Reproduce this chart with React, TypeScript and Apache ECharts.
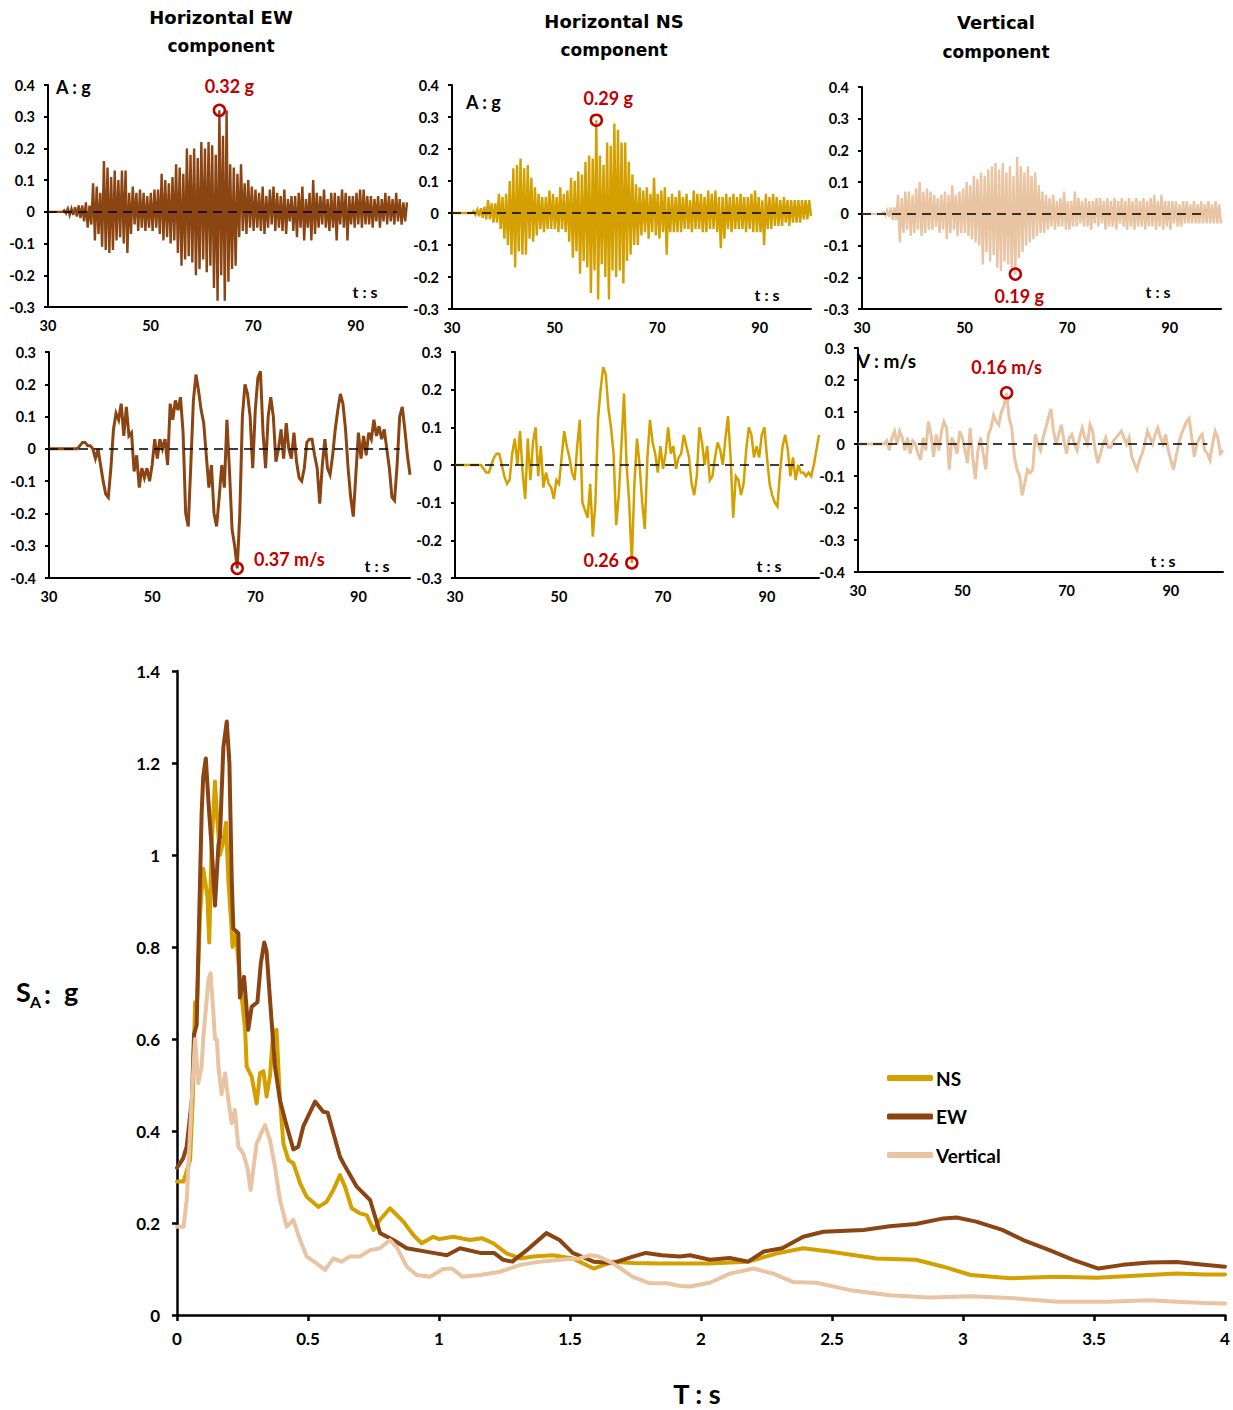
import React, { useEffect, useRef } from "react";
import * as echarts from "echarts";

// ---------- DATA ----------
const T_START = 30;
const T_END = 100;

// Acceleration records, hundredths of g, evenly sampled from 30 s to 100 s
const ewAccCg = [
  0, 0, 0, 0, 0, 0, 0, 0, 0,
  0.5, -0.5, 1, -1, 1, -1, 1.5, -1.5, 2,
  -2, 2, -3, 3, -5, 2, -4,
  9, -9, 8, -7,
  6, -11, 16, -12, 14, -13,
  11, -12, 13, -9, 10, -8, 13, -10, 13, -13, 6,
  -7, 8, -4, 6, -6, 7, -5, 6, -6, 5, -5, 6, -6, 7, -5, 7, -7,
  12, -9, 10, -8, 9, -10, 11, -9, 15,
  -13, 14, -17, 12, -15, 20, -14, 18, -16,
  20, -20, 17, -18, 22, -15, 20, -19,
  22, -17, 21, -24, 18,
  -28, 32, -20, 24, -28, 32, -22,
  15, -18, 14, -17, 12, -8,
  15, -6, 9, -7, 10, -5, 8, -6,
  7, -5, 6, -6, 8, -7, 5, -5, 7, -4,
  8, -6, 6, -5, 5, -6, 7, -7, 4, -3,
  5, -6, 5, -8, 6, -5, 8, -9, 4, -5,
  6, -9, 10, -7, 6, -5, 5, -4, 7, -5,
  4, -6, 6, -5, 6, -9, 5, -4, 7, -5,
  6, -9, 5, -4, 5, -5, 6, -4, 7, -5,
  7, -4, 5, -4, 5, -5, 4, -3, 5, -5,
  4, -3, 6, -4, 5, -3, 4, -4, 6, -3,
  4, -4, 3, -3, 3,
];

const nsAccCg = [
  0, 0, 0, 0, 0, 0, 0, 0, 0, 0, 0, 0,
  0.5, -0.5, 1, -1, 1.5, -1.5, 2, -2,
  4, -2, 3, -3, 3, -3,
  6, -5, 5, -8, 6, -10,
  10, -13, 14, -17, 15,
  -12, 17, -13, 14, -13, 15, -8,
  11, -9, 8, -7, 6, -5,
  5, -6, 5, -5, 7, -5, 6, -5, 5, -6, 8, -5, 6, -6, 7, -9,
  11, -14, 10, -12, 13, -19,
  12, -15, 16, -17, 18, -25,
  17, -18, 29, -27, 18, -16,
  15, -20, 22, -27, 21, -18,
  28, -20, 26, -18, 22, -22,
  22, -15, 16, -13, 12, -10,
  9, -10, 8, -7, 7, -6, 8, -8,
  6, -6, 11, -7, 6, -8, 7, -6, 8, -13,
  5, -6, 6, -6, 5, -6, 7, -6, 5, -5,
  6, -5, 4, -6, 7, -5, 6, -5, 6, -6,
  5, -6, 7, -5, 6, -5, 7, -6, 5, -11,
  5, -8, 6, -5, 5, -6, 6, -5, 5, -5,
  6, -5, 5, -6, 5, -5, 6, -6, 7, -6,
  5, -6, 4, -10, 6, -5, 5, -5, 6, -4,
  5, -4, 4, -4, 5, -3, 4, -4, 4, -3,
  4, -3, 4, -3, 4, -2, 4, -2, 4, -1,
];

const vAccCg = [
  0, 0, 0, 0, 0, 0, 0, 0, 0, 0, 0, 0,
  0.5, -0.5, 1, -1, 2, -2, 2, -2,
  6, -9, 5, -6, 7, -5,
  7, -7, 6, -6, 8, -5,
  10, -7, 7, -6, 8, -5,
  7, -5, 6, -4, 5, -6,
  6, -5, 7, -8, 6, -6,
  9, -5, 6, -7, 7, -6,
  8, -6, 10, -7, 9, -8,
  12, -9, 11, -10, 13, -16,
  12, -12, 14, -15, 15, -13,
  16, -17, 14, -18, 16, -15,
  13, -16, 15, -18, 12, -19,
  18, -14, 15, -12, 13, -10,
  15, -9, 12, -8, 13, -7,
  9, -6, 7, -6, 6, -5,
  5, -4, 6, -5, 4, -4, 5, -4, 7, -5,
  4, -5, 4, -4, 7, -4, 5, -3, 4, -4,
  5, -4, 4, -5, 4, -3, 5, -4, 5, -3,
  4, -5, 5, -4, 4, -4, 5, -5, 4, -3,
  5, -4, 4, -5, 5, -4, 4, -5, 5, -4,
  4, -4, 5, -5, 4, -4, 5, -4, 6, -5,
  4, -4, 6, -5, 4, -4, 4, -5, 4, -3,
  4, -4, 3, -4, 4, -3, 4, -3, 3, -3,
  4, -3, 3, -3, 4, -3, 3, -3, 4, -3,
  3, -3, 4, -3, 3, -3,
];

// Velocity records, cm/s, every 0.5 s from 30 s to 100 s
const ewVelCms = [
  0, 0, 0, 0, 0, 0, 0, 0, 0, 0, 0, 0,
  1, 2, 2, 1, 1, 0, -3, 0,
  -5, -10, -14, -15, -6, 6, 11, 9,
  14, 4, 13, 4, 5, -7, -2, -12,
  -6, -9, -6, -10, -5, 3, -3, 3,
  0, 3, -5, 14, 9, 15, 12, 16,
  5, -20, -24, -5, 15, 23, 18, 12,
  8, -2, -12, -5, -20, -24, -15, -5,
  -12, 9, -7, -25, -30, -37, -20, 10,
  20, 17, 10, -6, 12, 22, 24, 5,
  -6, 10, 16, 10, -4, 0, 6, -3,
  8, 0, -3, 5, -4, -9, -10, -6,
  2, 3, 3, -2, -6, -17, -5, 3,
  -6, -8, -2, 6, 12, 17, 14, 6,
  -6, -15, -21, -8, 5, -3, 4, -2,
  5, 3, 9, 4, 7, 3, 6, 0,
  -6, -15, -16, -5, 10, 13, 6, -2,
  -8,
];

const nsVelCms = [
  0, 0, 0, 0, 0, 0, 0, 0, 0, 0,
  0, -1, -2, -2, 0, 2, 3, 3, 0, -3,
  -5, -4, 3, 7, 0, 9, -2, -9, 7, -4,
  6, 10, -3, 5, -6, -2, -5, -6, -9, -4,
  -5, 2, 9, 5, 2, -2, -4, 5, 12, -10,
  -12, -14, -5, -19, -10, 12, 20, 26, 24, 15,
  10, 3, -16, -8, 5, 19, 0, -10, -26, -5,
  7, 0, -10, -17, 2, 12, 6, 3, -2, 5,
  -1, 3, 10, 3, 5, -1, 2, 3, 8, 5,
  2, -5, -8, -3, 10, 6, 0, 5, -4, -3,
  2, 6, 4, 0, 7, 13, 2, -14, -3, -4,
  -8, -5, 4, 10, 8, 2, 5, 2, 8, 10,
  2, -5, -8, -10, -11, -2, 5, 8, 4, -3,
  2, -4, 0, -2, -2, -3, -2, -3, 0, 4,
  8,
];

const vVelCms = [
  0, 0, 0, 0, 0, 0, 0, 0, 0, 0,
  0, 1, -2, 2, 4, 0, 4, 2, -2, 2,
  -3, 1, 0, -3, -5, 2, -2, 7, 3, -4,
  3, -2, 4, 7, 5, -8, 2, 0, -3, 4,
  2, -2, -6, 5, -4, -11, -2, 2, -3, -8,
  3, 5, 9, 7, 6, 10, 12, 16, 8, 5,
  -4, -8, -10, -16, -12, -8, -9, -8, 3, 0,
  -2, 2, 5, 8, 11, 4, 0, 3, 6, 1,
  -3, 2, 3, 0, -2, 2, 5, 2, 0, 6,
  4, -2, -6, -3, 0, 2, -1, -1, 1, 2,
  3, 4, 2, 0, 2, -4, -6, -8, -5, -3,
  0, 4, 2, 0, 3, 5, 2, 0, 3, -2,
  -5, -8, -4, 0, 3, 5, 7, 8, 2, -4,
  0, 2, 3, -2, -3, -5, 0, 4, 2, -3,
  -2,
];

// Response spectra: [period T (s), SA (g)]
const nsSpectrum: [number, number][] = [
  [0, 0.29], [0.025, 0.29], [0.05, 0.337], [0.06, 0.47], [0.069, 0.68], [0.075, 0.66],
  [0.088, 0.87], [0.1, 0.97], [0.116, 0.91], [0.123, 0.81], [0.132, 1.02], [0.145, 1.16],
  [0.154, 1.075], [0.164, 1.0], [0.177, 1.03], [0.187, 1.07], [0.196, 0.945], [0.206, 0.86],
  [0.212, 0.8], [0.225, 0.83], [0.24, 0.73], [0.26, 0.62], [0.266, 0.54], [0.285, 0.518],
  [0.304, 0.46], [0.317, 0.526], [0.33, 0.53], [0.342, 0.475], [0.355, 0.52], [0.367, 0.613],
  [0.38, 0.62], [0.393, 0.467], [0.406, 0.373], [0.425, 0.337], [0.444, 0.33], [0.47, 0.286],
  [0.495, 0.257], [0.54, 0.235], [0.571, 0.246], [0.597, 0.272], [0.622, 0.304], [0.641, 0.279],
  [0.667, 0.232], [0.698, 0.221], [0.724, 0.217], [0.75, 0.185], [0.775, 0.207], [0.813, 0.232],
  [0.864, 0.203], [0.902, 0.174], [0.934, 0.156], [0.978, 0.17], [1.0, 0.165], [1.055, 0.17],
  [1.118, 0.163], [1.163, 0.167], [1.207, 0.156], [1.258, 0.134], [1.31, 0.123], [1.36, 0.127],
  [1.436, 0.13], [1.51, 0.123], [1.59, 0.101], [1.665, 0.116], [1.74, 0.113], [1.84, 0.112],
  [1.92, 0.112], [2.03, 0.112], [2.18, 0.116], [2.29, 0.134], [2.39, 0.145], [2.49, 0.138],
  [2.67, 0.123], [2.82, 0.12], [2.925, 0.105], [3.03, 0.087], [3.18, 0.08], [3.36, 0.083],
  [3.51, 0.081], [3.71, 0.087], [3.815, 0.09], [3.92, 0.088], [4, 0.088],
];

const ewSpectrum: [number, number][] = [
  [0, 0.32], [0.023, 0.34], [0.037, 0.366], [0.057, 0.47], [0.065, 0.61], [0.075, 0.63],
  [0.094, 1.09], [0.1, 1.17], [0.11, 1.21], [0.123, 1.09], [0.132, 1.02], [0.145, 0.89],
  [0.158, 1.02], [0.164, 1.04], [0.177, 1.235], [0.19, 1.29], [0.2, 1.2], [0.209, 0.945],
  [0.215, 0.84], [0.234, 0.83], [0.24, 0.69], [0.256, 0.735], [0.272, 0.62], [0.285, 0.67],
  [0.307, 0.68], [0.32, 0.765], [0.333, 0.81], [0.342, 0.79], [0.355, 0.685], [0.374, 0.54],
  [0.393, 0.467], [0.419, 0.41], [0.444, 0.36], [0.463, 0.366], [0.482, 0.41], [0.527, 0.464],
  [0.558, 0.442], [0.575, 0.44], [0.597, 0.395], [0.622, 0.344], [0.635, 0.33], [0.686, 0.279],
  [0.737, 0.25], [0.775, 0.178], [0.826, 0.163], [0.877, 0.145], [0.978, 0.135], [1.03, 0.13],
  [1.08, 0.145], [1.157, 0.135], [1.21, 0.135], [1.245, 0.12], [1.28, 0.116], [1.335, 0.141],
  [1.41, 0.178], [1.46, 0.163], [1.51, 0.135], [1.59, 0.116], [1.665, 0.113], [1.74, 0.127],
  [1.79, 0.135], [1.85, 0.13], [1.92, 0.127], [1.958, 0.13], [2.034, 0.12], [2.11, 0.124],
  [2.18, 0.116], [2.24, 0.138], [2.31, 0.145], [2.39, 0.17], [2.467, 0.181], [2.62, 0.185],
  [2.72, 0.193], [2.82, 0.198], [2.925, 0.21], [2.976, 0.212], [3.05, 0.203], [3.15, 0.185],
  [3.23, 0.163], [3.33, 0.141], [3.42, 0.12], [3.517, 0.101], [3.61, 0.109], [3.71, 0.114],
  [3.815, 0.115], [3.92, 0.109], [4, 0.105],
];

const vSpectrum: [number, number][] = [
  [0, 0.192], [0.025, 0.192], [0.037, 0.25], [0.056, 0.467], [0.069, 0.6], [0.081, 0.504],
  [0.094, 0.54], [0.1, 0.6], [0.12, 0.728], [0.128, 0.743], [0.139, 0.656], [0.145, 0.6],
  [0.152, 0.6], [0.158, 0.54], [0.17, 0.48], [0.183, 0.525], [0.196, 0.467], [0.209, 0.417],
  [0.221, 0.446], [0.234, 0.366], [0.253, 0.351], [0.268, 0.322], [0.281, 0.272], [0.304, 0.373],
  [0.336, 0.413], [0.355, 0.38], [0.374, 0.322], [0.393, 0.25], [0.419, 0.192], [0.444, 0.207],
  [0.47, 0.163], [0.495, 0.127], [0.533, 0.112], [0.565, 0.098], [0.597, 0.123], [0.628, 0.116],
  [0.66, 0.127], [0.698, 0.127], [0.737, 0.141], [0.775, 0.145], [0.813, 0.163], [0.838, 0.148],
  [0.877, 0.105], [0.915, 0.087], [0.966, 0.083], [1.016, 0.1], [1.05, 0.101], [1.09, 0.083],
  [1.157, 0.087], [1.233, 0.094], [1.31, 0.109], [1.385, 0.116], [1.46, 0.12], [1.536, 0.123],
  [1.576, 0.13], [1.61, 0.127], [1.665, 0.112], [1.74, 0.083], [1.805, 0.069], [1.87, 0.069],
  [1.92, 0.063], [1.958, 0.062], [2.034, 0.07], [2.11, 0.09], [2.2, 0.101], [2.276, 0.09],
  [2.35, 0.072], [2.44, 0.07], [2.57, 0.054], [2.72, 0.043], [2.87, 0.038], [3.03, 0.041],
  [3.18, 0.037], [3.36, 0.029], [3.55, 0.029], [3.71, 0.032], [3.815, 0.029], [3.92, 0.026],
  [4, 0.025],
];

const componentTitles = ["Horizontal EW", "Horizontal NS", "Vertical"];
const peakLabels = ["0.32 g", "0.29 g", "0.19 g", "0.37 m/s", "0.26", "0.16 m/s"];
const legendNames = ["NS", "EW", "Vertical"];

// ---------- STYLE ----------
const EW_COLOR = "#8B4513";
const NS_COLOR = "#D4A000";
const V_COLOR = "#E8C4A2";
const RED = "#C00000";
const FONT = "Lato, 'DejaVu Sans', sans-serif";
const TITLE_FONT = "'DejaVu Sans', sans-serif";

function toTimeSeries(values: number[]): [number, number][] {
  const n = values.length;
  return values.map((v, i) => [T_START + (i * (T_END - T_START)) / (n - 1), v / 100]);
}

type Panel = {
  name: string;
  values: number[];
  color: string;
  lw: number;
  fill: boolean;
  grid: { left: number; top: number; width: number; height: number };
  min: number;
  max: number;
  zeroEnd: number;
  peak: { type: "max" | "min"; label: string; position: string; distance: number; offset: number[] };
};

const panels: Panel[] = [
  { name: "EW acc", values: ewAccCg, color: EW_COLOR, lw: 2.4, fill: true, grid: { left: 48, top: 85, width: 359, height: 222 }, min: -0.3, max: 0.4, zeroEnd: 98,
    peak: { type: "max", label: peakLabels[0], position: "top", distance: 9, offset: [10, 0] } },
  { name: "NS acc", values: nsAccCg, color: NS_COLOR, lw: 2.4, fill: true, grid: { left: 452, top: 85, width: 359, height: 224 }, min: -0.3, max: 0.4, zeroEnd: 97,
    peak: { type: "max", label: peakLabels[1], position: "top", distance: 6, offset: [12, 0] } },
  { name: "V acc", values: vAccCg, color: V_COLOR, lw: 2.4, fill: true, grid: { left: 862, top: 87, width: 359, height: 222 }, min: -0.3, max: 0.4, zeroEnd: 97,
    peak: { type: "min", label: peakLabels[2], position: "bottom", distance: 6, offset: [4, 0] } },
  { name: "EW vel", values: ewVelCms, color: EW_COLOR, lw: 3, fill: false, grid: { left: 49, top: 352, width: 361, height: 226 }, min: -0.4, max: 0.3, zeroEnd: 98,
    peak: { type: "min", label: peakLabels[3], position: "right", distance: 10, offset: [0, -9] } },
  { name: "NS vel", values: nsVelCms, color: NS_COLOR, lw: 2.5, fill: false, grid: { left: 455, top: 352, width: 364, height: 226 }, min: -0.3, max: 0.3, zeroEnd: 97,
    peak: { type: "min", label: peakLabels[4], position: "left", distance: 6, offset: [0, -3] } },
  { name: "V vel", values: vVelCms, color: V_COLOR, lw: 3, fill: false, grid: { left: 858, top: 348, width: 365, height: 224 }, min: -0.4, max: 0.3, zeroEnd: 97,
    peak: { type: "max", label: peakLabels[5], position: "top", distance: 10, offset: [0, 0] } },
];

function txt(text: string, x: number, y: number, size: number, align = "center", color = "#000", family = FONT, weight = "bold") {
  return {
    type: "text",
    x,
    y,
    silent: true,
    z: 100,
    style: { text, fill: color, fontSize: size, fontWeight: weight, fontFamily: family, align, verticalAlign: "middle" },
  };
}

export default function App() {
  const ref = useRef<HTMLDivElement>(null);

  useEffect(() => {
    if (!ref.current) return;
    const chart = echarts.init(ref.current, undefined, { renderer: "svg" });

    const grids: any[] = [];
    const xAxes: any[] = [];
    const yAxes: any[] = [];
    const series: any[] = [];

    panels.forEach((p, i) => {
      grids.push({ ...p.grid, containLabel: false, outerBoundsMode: "none" });
      xAxes.push({
        gridIndex: i,
        type: "value",
        min: 30,
        max: 100,
        interval: 20,
        axisLine: { show: true, onZero: false, lineStyle: { color: "#000", width: 2 } },
        axisTick: { show: false },
        splitLine: { show: false },
        axisLabel: { showMaxLabel: false, color: "#000", fontSize: 14.5, fontWeight: "bold", fontFamily: FONT, margin: 11 },
      });
      yAxes.push({
        gridIndex: i,
        type: "value",
        min: p.min,
        max: p.max,
        interval: 0.1,
        axisLine: { show: true, onZero: false, lineStyle: { color: "#000", width: 2 } },
        axisTick: { show: true, length: 4, lineStyle: { color: "#000", width: 2 } },
        splitLine: { show: false },
        axisLabel: { color: "#000", fontSize: 14.5, fontWeight: "bold", fontFamily: FONT, margin: 13 },
      });
      series.push({
        name: p.name,
        type: "line",
        xAxisIndex: i,
        yAxisIndex: i,
        data: toTimeSeries(p.values),
        symbol: "none",
        showSymbol: false,
        lineStyle: { color: p.color, width: p.lw, join: "miter" },
        itemStyle: { color: p.color },
        areaStyle: p.fill ? { color: p.color, opacity: 1, origin: 0 } : undefined,
        silent: true,
        z: 2,
        markLine: {
          silent: true,
          symbol: ["none", "none"],
          label: { show: false },
          lineStyle: { color: "#000", width: 1.5, type: [9, 6] },
          data: [[{ coord: [30, 0] }, { coord: [p.zeroEnd, 0] }]],
          z: 5,
        },
        markPoint: {
          silent: true,
          symbol: "circle",
          symbolSize: 11,
          itemStyle: { color: "rgba(255,255,255,0)", borderColor: RED, borderWidth: 2.5 },
          label: {
            show: true,
            formatter: p.peak.label,
            position: p.peak.position,
            distance: p.peak.distance,
            offset: p.peak.offset,
            color: RED,
            fontSize: 18,
            fontWeight: "bold",
            fontFamily: FONT,
          },
          data: [{ type: p.peak.type, valueDim: "y" }],
          z: 6,
        },
      });
    });

    // Spectrum chart
    const gi = panels.length;
    grids.push({ left: 177, top: 671, width: 1048, height: 644, containLabel: false, outerBoundsMode: "none" });
    xAxes.push({
      gridIndex: gi,
      type: "value",
      min: 0,
      max: 4,
      interval: 0.5,
      axisLine: { show: true, onZero: false, lineStyle: { color: "#000", width: 2.5 } },
      axisTick: { show: true, inside: false, length: 6, lineStyle: { color: "#000", width: 2.5 } },
      splitLine: { show: false },
      axisLabel: { color: "#000", fontSize: 17, fontWeight: "bold", fontFamily: FONT, margin: 15 },
    });
    yAxes.push({
      gridIndex: gi,
      type: "value",
      min: 0,
      max: 1.4,
      interval: 0.2,
      axisLine: { show: true, onZero: false, lineStyle: { color: "#000", width: 2.5 } },
      axisTick: { show: true, length: 5, lineStyle: { color: "#000", width: 2.5 } },
      splitLine: { show: false },
      axisLabel: { color: "#000", fontSize: 17, fontWeight: "bold", fontFamily: FONT, margin: 17 },
    });
    const spec = [
      { name: legendNames[0], data: nsSpectrum, color: NS_COLOR },
      { name: legendNames[1], data: ewSpectrum, color: EW_COLOR },
      { name: legendNames[2], data: vSpectrum, color: V_COLOR },
    ];
    spec.forEach((s, k) => {
      series.push({
        name: s.name,
        type: "line",
        xAxisIndex: gi,
        yAxisIndex: gi,
        data: s.data,
        symbol: "none",
        showSymbol: false,
        lineStyle: { color: s.color, width: 4, cap: "round", join: "round" },
        itemStyle: { color: s.color },
        silent: true,
        z: 2 + k,
      });
    });

    const graphic: any[] = [
      txt(componentTitles[0], 221, 17, 18, "center", "#000", TITLE_FONT),
      txt("component", 221, 46, 17, "center", "#000", TITLE_FONT),
      txt(componentTitles[1], 614, 21, 18, "center", "#000", TITLE_FONT),
      txt("component", 614, 50, 17, "center", "#000", TITLE_FONT),
      txt(componentTitles[2], 996, 22, 18, "center", "#000", TITLE_FONT),
      txt("component", 996, 52, 17, "center", "#000", TITLE_FONT),
      txt("A : g", 56, 87, 18, "left"),
      txt("A : g", 466, 102, 18, "left"),
      txt("V : m/s", 857, 360, 19, "left"),
      txt("t : s", 365, 291, 16),
      txt("t : s", 767, 294, 16),
      txt("t : s", 1158, 291, 16),
      txt("t : s", 377, 565, 16),
      txt("t : s", 769, 565, 16),
      txt("t : s", 1163, 560, 16),
      txt("S", 16, 991, 27, "left"),
      txt("A", 30, 1001, 16, "left"),
      txt(":", 44, 993, 27, "left"),
      txt("g", 64, 991, 27, "left"),
      txt("T : s", 697, 1393, 27),
    ];

    chart.setOption({
      animation: false,
      backgroundColor: "#fff",
      textStyle: { fontFamily: FONT },
      grid: grids,
      xAxis: xAxes,
      yAxis: yAxes,
      series,
      legend: {
        data: legendNames,
        orient: "vertical",
        left: 882,
        top: 1062,
        padding: 5,
        icon: "roundRect",
        itemWidth: 46,
        itemHeight: 6,
        itemGap: 16.5,
        selectedMode: false,
        textStyle: { color: "#000", fontSize: 19, fontWeight: "bold", fontFamily: FONT, lineHeight: 22, padding: [0, 0, 0, -2] },
      },
      graphic,
    });

    return () => chart.dispose();
  }, []);

  return (
    <div
      ref={ref}
      style={{ position: "absolute", left: 0, top: 0, width: 1233, height: 1410, background: "#fff" }}
    />
  );
}
